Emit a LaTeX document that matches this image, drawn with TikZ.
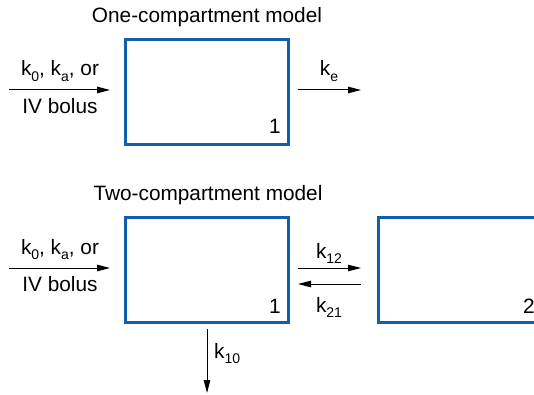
\documentclass[tikz,border=0pt]{standalone}
\usepackage{fontspec}
\setmainfont{Liberation Sans}
\usetikzlibrary{arrows.meta}
\definecolor{boxblue}{RGB}{16,94,172}
\newcommand\sbs[1]{\raisebox{-0.28em}{\fontsize{14}{14}\selectfont #1}}
\tikzset{
  compbox/.style={minimum width=162pt, minimum height=104pt, inner sep=0pt},
  boxline/.style={draw=boxblue, line width=2.8pt},
  flow/.style={line width=1pt, -{Triangle[length=13pt,width=6.5pt]}},
  lbl/.style={anchor=base, inner sep=0pt, font=\fontsize{20.8}{25}\selectfont},
}
\begin{document}
\begin{tikzpicture}[x=1pt,y=-1pt]
\useasboundingbox (0,0) rectangle (534,395);
\clip (0,0) rectangle (534,395);
% One-compartment model
\node[lbl] (t1) at (207,23) {One-compartment model};
\node[compbox] (b1) at (207,92) {};
\draw[boxline] (b1.north west) rectangle (b1.south east);
\node[lbl, anchor=base east] (n1) at (281,134) {1};
\node[lbl] (in1a) at (60,76) {k\sbs{0}, k\sbs{a}, or};
\node[lbl] (in1b) at (60,114) {IV bolus};
\coordinate (s1) at (9,90);
\coordinate (e1) at (110,90);
\draw[flow] (s1) -- (e1);
\coordinate (o1s) at (298,90);
\coordinate (o1e) at (361,90);
\draw[flow] (o1s) -- (o1e);
\node[lbl] (ke) at (329,76) {k\sbs{e}};
% Two-compartment model
\node[lbl] (t2) at (208,200) {Two-compartment model};
\node[compbox] (b2) at (207,270) {};
\draw[boxline] (b2.north west) rectangle (b2.south east);
% compartment 2 runs past the right edge of the picture
\node[compbox, minimum width=200pt] (b3) at (479,270) {};
\draw[boxline] (b3.north east) -- (b3.north west) -- (b3.south west) -- (b3.south east);
\node[lbl, anchor=base east] (n2) at (281,313) {1};
\node[lbl, anchor=base west] (n3) at (523,313) {2};
\node[lbl] (in2a) at (60,254) {k\sbs{0}, k\sbs{a}, or};
\node[lbl] (in2b) at (60,291) {IV bolus};
\coordinate (s2) at (9,268);
\coordinate (e2) at (110,268);
\draw[flow] (s2) -- (e2);
\coordinate (a12s) at (298,268);
\coordinate (a12e) at (361,268);
\draw[flow] (a12s) -- (a12e);
\node[lbl] (k12) at (329,258) {k\sbs{12}};
\coordinate (a21s) at (361,284);
\coordinate (a21e) at (298,284);
\draw[flow] (a21s) -- (a21e);
\node[lbl] (k21) at (329,312) {k\sbs{21}};
\coordinate (d1) at (207,329);
\coordinate (d2) at (207,393);
\draw[flow] (d1) -- (d2);
\node[lbl, anchor=base west] (k10) at (214,358) {k\sbs{10}};
\end{tikzpicture}
\end{document}
